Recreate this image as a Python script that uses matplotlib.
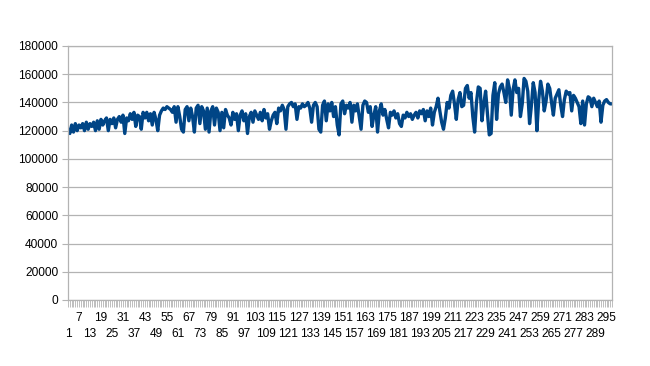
import matplotlib
matplotlib.use("Agg")
import matplotlib.pyplot as plt
from matplotlib.ticker import FixedLocator

# values in thousands, read per week (7 points per row)
weeks = [
    [121, 118, 124, 119, 125, 120, 124],
    [122, 125, 120, 126, 121, 125, 123],
    [126, 120, 127, 121, 128, 124, 127],
    [129, 120, 128, 125, 129, 122, 128],
    [130, 126, 131, 118, 129, 127, 132],
    [128, 133, 123, 131, 130, 121, 133],
    [129, 133, 127, 132, 124, 133, 128],
    [120, 131, 134, 136, 135, 137, 136],
    [135, 133, 137, 126, 137, 130, 121],
    [119, 135, 137, 127, 136, 130, 119],
    [136, 138, 125, 137, 134, 121, 136],
    [119, 134, 137, 124, 136, 133, 120],
    [133, 122, 135, 131, 129, 124, 133],
    [128, 132, 120, 131, 134, 127, 132],
    [118, 130, 133, 126, 134, 131, 128],
    [133, 127, 135, 129, 132, 121, 127],
    [131, 133, 125, 136, 134, 138, 135],
    [121, 137, 139, 140, 137, 139, 128],
    [137, 136, 139, 137, 138, 140, 136],
    [126, 138, 140, 137, 121, 119, 138],
    [141, 127, 139, 134, 140, 130, 137],
    [124, 117, 139, 141, 132, 138, 136],
    [140, 126, 138, 134, 139, 130, 121],
    [138, 141, 140, 133, 137, 123, 131],
    [137, 119, 134, 139, 131, 135, 128],
    [122, 133, 131, 134, 129, 132, 125],
    [123, 131, 129, 133, 130, 132, 128],
    [131, 133, 129, 134, 132, 135, 127],
    [134, 130, 136, 124, 133, 137, 143],
    [134, 126, 121, 129, 140, 136, 145],
    [148, 139, 128, 142, 147, 137, 138],
    [150, 152, 143, 147, 130, 119, 140],
    [151, 150, 127, 139, 148, 132, 117],
    [118, 145, 154, 128, 146, 151, 153],
    [147, 140, 156, 150, 131, 149, 156],
    [147, 150, 130, 139, 157, 155, 148],
    [125, 138, 154, 147, 120, 142, 155],
    [148, 134, 141, 153, 150, 140, 131],
    [143, 146, 149, 138, 130, 142, 148],
    [146, 147, 134, 145, 143, 140, 137],
    [125, 141, 124, 139, 144, 143, 137],
    [143, 140, 137, 141, 126, 138, 141],
]
tail = [142, 140, 139, 139]

values = [v * 1000 for w in weeks for v in w] + [v * 1000 for v in tail]
categories = list(range(1, len(values) + 1))
y_ticks = list(range(0, 180001, 20000))

fig = plt.figure(figsize=(6.5, 3.66), dpi=100)
ax = fig.add_axes([68 / 650, 66 / 366, 544 / 650, 254 / 366])

ax.plot(categories, values, color="#004586", linewidth=2.4, solid_joinstyle="round")

ax.set_xlim(1, len(values))
ax.set_ylim(0, 180000)
ax.set_yticks(y_ticks)
ax.set_yticklabels([str(t) for t in y_ticks], fontsize=8.6, family="Liberation Sans")
ax.grid(axis="y", color="#b3b3b3", linewidth=0.9)
ax.set_axisbelow(True)

for s in ax.spines.values():
    s.set_color("#b3b3b3")
    s.set_linewidth(0.9)

ax.tick_params(axis="y", length=4, color="#b3b3b3", pad=3)

# every category gets a tick mark; labels every 6th, staggered in two rows
ax.xaxis.set_minor_locator(FixedLocator(categories))
ax.tick_params(axis="x", which="minor", length=5, color="#b3b3b3", width=0.6)
label_pos = categories[::6]
ax.set_xticks(label_pos)
ax.set_xticklabels([])
ax.tick_params(axis="x", which="major", length=5, color="#b3b3b3", width=0.6)
trans = ax.get_xaxis_transform()
for k, p in enumerate(label_pos):
    yoff = -0.072 if k % 2 == 1 else -0.135
    ax.text(p, yoff, str(p), transform=trans, ha="center", va="center",
            fontsize=8.6, family="Liberation Sans")

fig.savefig("out.png", dpi=100)
